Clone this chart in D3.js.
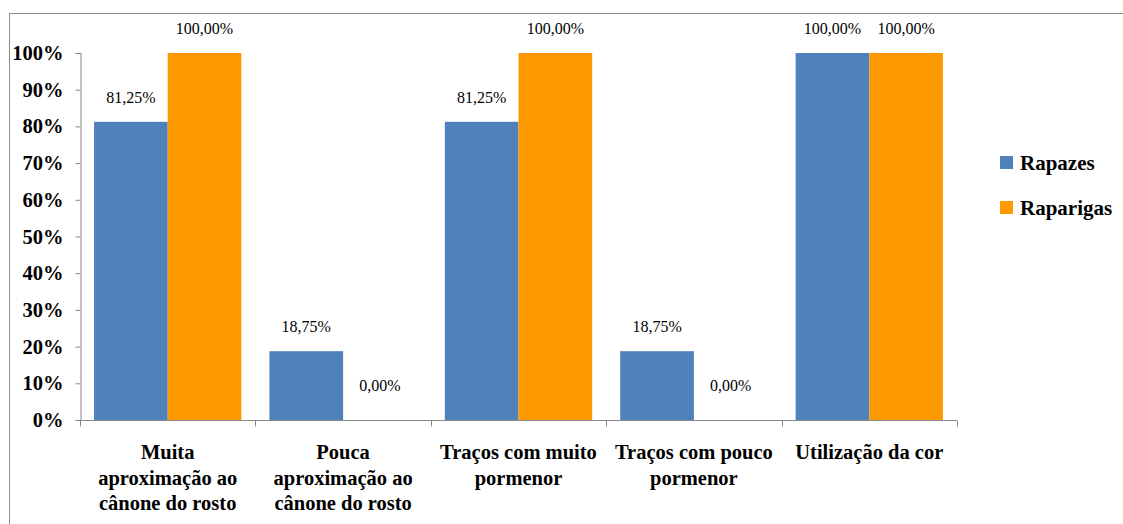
<!DOCTYPE html>
<html>
<head>
<meta charset="utf-8">
<script src="https://cdn.jsdelivr.net/npm/d3@7/dist/d3.min.js"></script>
<style>
  html, body { margin: 0; padding: 0; background: #fff; }
  svg { display: block; }
</style>
</head>
<body>
<svg id="chart" width="1123" height="524"></svg>
<script>
// Categories (one array of lines per category label)
const categories = [
  "Muita aproximação ao cânone do rosto",
  "Pouca aproximação ao cânone do rosto",
  "Traços com muito pormenor",
  "Traços com pouco pormenor",
  "Utilização da cor"
];
const categoryLines = [
  ["Muita", "aproximação ao", "cânone do rosto"],
  ["Pouca", "aproximação ao", "cânone do rosto"],
  ["Traços com muito", "pormenor"],
  ["Traços com pouco", "pormenor"],
  ["Utilização da cor"]
];
const seriesNames = ["Rapazes", "Raparigas"];
const rapazes = [81.25, 18.75, 81.25, 18.75, 100];
const raparigas = [100, 0, 100, 0, 100];
const yTicks = [0, 10, 20, 30, 40, 50, 60, 70, 80, 90, 100];
const colors = ["#4F81BD", "#FF9900"];

const FAMILY = "'Liberation Serif', Tinos, serif";
const font = (size, bold) => `${bold ? "bold " : ""}${size}px ${FAMILY}`;
const svg = d3.select("#chart");

// outer frame
svg.append("rect")
  .attr("x", 9.5).attr("y", 13.5)
  .attr("width", 1200).attr("height", 600)
  .attr("fill", "none").attr("stroke", "#8c8c8c").attr("stroke-width", 1);

const plot = { left: 80, right: 957, top: 53, bottom: 420 };

const x = d3.scaleBand()
  .domain(categories)
  .range([plot.left, plot.right])
  .paddingInner(0.16)
  .paddingOuter(0.08);

const xs = d3.scaleBand().domain(seriesNames).range([0, x.bandwidth()]);

const y = d3.scaleLinear().domain([0, 100]).range([plot.bottom, plot.top]);

// y axis
const yAxis = svg.append("g")
  .attr("transform", `translate(${plot.left + 0.5},0)`)
  .call(d3.axisLeft(y).tickValues(yTicks).tickSize(5).tickPadding(12).tickFormat(d => d + "%"));
yAxis.attr("font-family", null).attr("font-size", null);
yAxis.select(".domain").attr("stroke", "#868686");
yAxis.selectAll(".tick line").attr("stroke", "#868686");
yAxis.selectAll(".tick text")
  .style("font", font(20.5, true)).attr("fill", "#000");

// bars
const data = categories.map((c, i) => ({ cat: c, values: [rapazes[i], raparigas[i]] }));
const groups = svg.append("g").selectAll("g")
  .data(data).join("g")
  .attr("transform", d => `translate(${x(d.cat)},0)`);

groups.selectAll("rect")
  .data(d => d.values.map((v, k) => ({ v, k })))
  .join("rect")
  .attr("x", d => xs(seriesNames[d.k]))
  .attr("y", d => y(d.v))
  .attr("width", xs.bandwidth())
  .attr("height", d => y(0) - y(d.v))
  .attr("fill", d => colors[d.k]);

// value labels
const fmt = v => v.toFixed(2).replace(".", ",") + "%";
groups.selectAll("text")
  .data(d => d.values.map((v, k) => ({ v, k })))
  .join("text")
  .attr("x", d => xs(seriesNames[d.k]) + xs.bandwidth() / 2)
  .attr("y", d => y(d.v) - (d.v === 0 ? 29 : 19))
  .attr("text-anchor", "middle")
  .style("font", font(16, false))
  .attr("fill", "#000")
  .text(d => fmt(d.v));

// x axis
const xAxisG = svg.append("g").attr("transform", `translate(0,${plot.bottom + 0.5})`);
xAxisG.append("line")
  .attr("x1", plot.left).attr("x2", plot.right)
  .attr("stroke", "#868686");
const step = x.step();
const boundaries = d3.range(categories.length + 1).map(i => plot.left + i * step);
xAxisG.selectAll("line.tick")
  .data(boundaries).join("line").attr("class", "tick")
  .attr("x1", d => Math.round(d) + 0.5).attr("x2", d => Math.round(d) + 0.5)
  .attr("y1", 0).attr("y2", 6)
  .attr("stroke", "#868686");

// category labels
categories.forEach((c, i) => {
  const cx = x(c) + x.bandwidth() / 2;
  const t = svg.append("text")
    .attr("text-anchor", "middle")
    .style("font", font(20.5, true))
    .attr("fill", "#000");
  categoryLines[i].forEach((line, j) => {
    t.append("tspan").attr("x", cx).attr("y", 459 + j * 25.5).text(line);
  });
});

// legend
const legend = svg.append("g");
seriesNames.forEach((name, i) => {
  const ly = 163 + i * 45;
  legend.append("rect")
    .attr("x", 1000).attr("y", ly - 7).attr("width", 13).attr("height", 13)
    .attr("fill", colors[i]);
  legend.append("text")
    .attr("x", 1020).attr("y", ly + 7)
    .style("font", font(21, true))
    .attr("fill", "#000")
    .text(name);
});
</script>
</body>
</html>
